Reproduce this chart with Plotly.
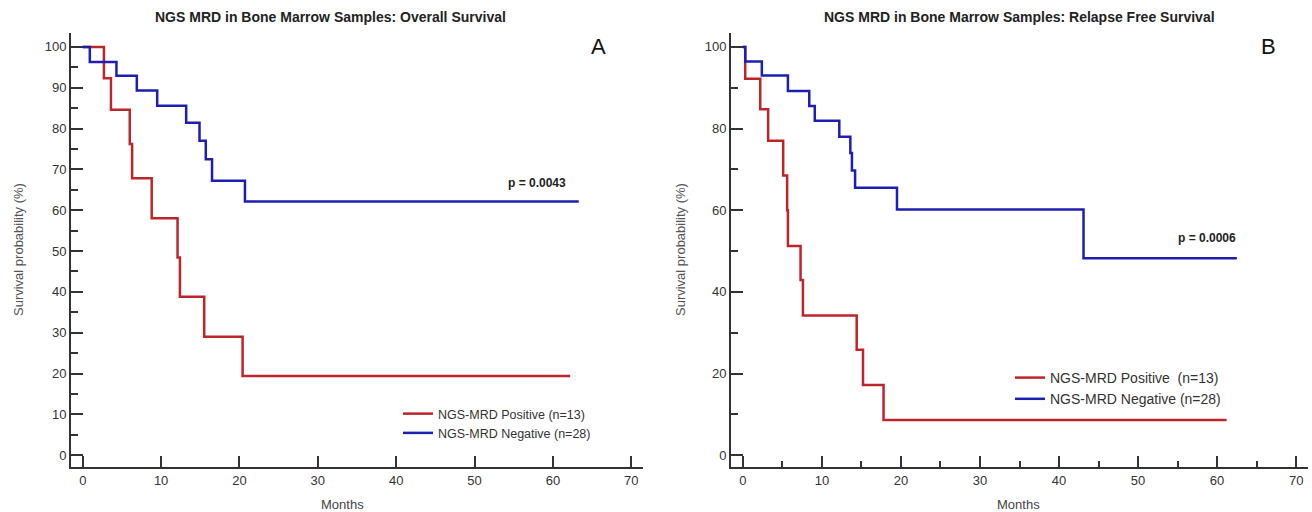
import plotly.graph_objects as go

# ---------------- data ----------------
# Panel A: Overall survival
os_pos_months = [0, 2.7, 3.6, 6.0, 6.3, 8.8, 12.1, 12.4, 15.5, 20.4, 62.2]
os_pos_surv = [100, 92.3, 84.6, 76.2, 67.8, 58.0, 48.4, 38.8, 29.0, 19.4, 19.4]
os_neg_months = [0, 0.9, 4.3, 6.9, 9.5, 13.2, 14.9, 15.7, 16.5, 20.7, 63.3]
os_neg_surv = [100, 96.3, 92.9, 89.3, 85.6, 81.4, 77.0, 72.5, 67.2, 62.1, 62.1]

# Panel B: Relapse free survival
rfs_pos_months = [0, 0.3, 2.2, 3.2, 5.1, 5.6, 5.7, 7.3, 7.6, 14.4, 15.2, 17.8, 61.2]
rfs_pos_surv = [100, 92.2, 84.7, 77.0, 68.5, 60.0, 51.2, 42.9, 34.2, 25.8, 17.2, 8.6, 8.6]
rfs_neg_months = [0, 0.3, 2.4, 5.7, 8.4, 9.1, 12.2, 13.6, 13.8, 14.2, 19.5, 43.1, 62.5]
rfs_neg_surv = [100, 96.4, 93.0, 89.2, 85.5, 81.9, 78.0, 74.0, 69.7, 65.5, 60.2, 48.2, 48.2]

x_ticks = [0, 10, 20, 30, 40, 50, 60, 70]
y_ticks_a = [0, 10, 20, 30, 40, 50, 60, 70, 80, 90, 100]
y_ticks_b = [0, 20, 40, 60, 80, 100]

title_a = "NGS MRD in Bone Marrow Samples: Overall Survival"
title_b = "NGS MRD in Bone Marrow Samples: Relapse Free Survival"
pval_a = "p = 0.0043"
pval_b = "p = 0.0006"
leg_pos_a = "NGS-MRD Positive (n=13)"
leg_neg_a = "NGS-MRD Negative (n=28)"
leg_pos_b = "NGS-MRD Positive  (n=13)"
leg_neg_b = "NGS-MRD Negative (n=28)"

# ---------------- styling ----------------
W, H = 1312, 512
RED = "#BE252B"
BLUE = "#1E1EB4"
AX = "#333333"
FONT = "Arial, Liberation Sans, sans-serif"


def px_x(p):
    return p / W


def px_y(p):
    return 1 - p / H


fig = go.Figure()

fig.add_trace(go.Scatter(x=os_pos_months, y=os_pos_surv, mode="lines", line_shape="hv",
                         line=dict(color=RED, width=2.5), name=leg_pos_a,
                         xaxis="x", yaxis="y", legend="legend"))
fig.add_trace(go.Scatter(x=os_neg_months, y=os_neg_surv, mode="lines", line_shape="hv",
                         line=dict(color=BLUE, width=2.5), name=leg_neg_a,
                         xaxis="x", yaxis="y", legend="legend"))
fig.add_trace(go.Scatter(x=rfs_pos_months, y=rfs_pos_surv, mode="lines", line_shape="hv",
                         line=dict(color=RED, width=2.5), name=leg_pos_b,
                         xaxis="x2", yaxis="y2", legend="legend2"))
fig.add_trace(go.Scatter(x=rfs_neg_months, y=rfs_neg_surv, mode="lines", line_shape="hv",
                         line=dict(color=BLUE, width=2.5), name=leg_neg_b,
                         xaxis="x2", yaxis="y2", legend="legend2"))

y_dom = [px_y(467), px_y(33)]


def xaxis(domain, anchor, minor):
    d = dict(domain=domain, anchor=anchor, range=[-1.5, 71.5], tickvals=x_ticks,
             showline=True, linecolor=AX, linewidth=2, ticks="inside", ticklen=11,
             tickwidth=2, tickcolor=AX, showgrid=False, zeroline=False,
             tickfont=dict(family=FONT, size=13, color="#333"), fixedrange=True)
    if minor:
        d["minor"] = dict(tickvals=[5, 15, 25, 35, 45, 55, 65], ticks="inside",
                          ticklen=6, tickwidth=2, tickcolor=AX, showgrid=False)
    return d


def yaxis(anchor, vals, minorvals):
    return dict(domain=y_dom, anchor=anchor, range=[-2.9, 103.4], tickvals=vals,
                showline=True, linecolor=AX, linewidth=2, ticks="inside", ticklen=12,
                tickwidth=2, tickcolor=AX, showgrid=False, zeroline=False,
                tickfont=dict(family=FONT, size=13, color="#333"), fixedrange=True,
                minor=dict(tickvals=minorvals, ticks="inside", ticklen=7, tickwidth=2,
                           tickcolor=AX, showgrid=False))


fig.update_layout(
    width=W, height=H, autosize=False,
    margin=dict(l=0, r=0, t=0, b=0),
    paper_bgcolor="white", plot_bgcolor="white",
    font=dict(family=FONT, color="#333"),
    xaxis=xaxis([px_x(71), px_x(643)], "y", False),
    yaxis=yaxis("x", y_ticks_a, [5, 15, 25, 35, 45, 55, 65, 75, 85, 95]),
    xaxis2=xaxis([px_x(731), px_x(1308)], "y2", True),
    yaxis2=yaxis("x2", y_ticks_b, [10, 30, 50, 70, 90]),
    legend=dict(x=px_x(398), y=px_y(399), xanchor="left", yanchor="top",
                bgcolor="rgba(0,0,0,0)", font=dict(family=FONT, size=12.5, color="#333"),
                tracegroupgap=0),
    legend2=dict(x=px_x(1010), y=px_y(362), xanchor="left", yanchor="top",
                 bgcolor="rgba(0,0,0,0)", font=dict(family=FONT, size=14, color="#333"),
                 tracegroupgap=0),
)

ann = []
ann.append(dict(text=f"<b>{title_a}</b>", x=px_x(330), y=px_y(17)))
ann.append(dict(text=f"<b>{title_b}</b>", x=px_x(1019), y=px_y(17)))
for a in ann:
    a.update(xref="paper", yref="paper", showarrow=False, xanchor="center", yanchor="middle",
             font=dict(family=FONT, size=14, color="#222"))
extra = [
    dict(text="A", x=px_x(598), y=px_y(46), font=dict(family=FONT, size=22, color="#111")),
    dict(text="B", x=px_x(1268), y=px_y(46), font=dict(family=FONT, size=22, color="#111")),
    dict(text=f"<b>{pval_a}</b>", x=px_x(537), y=px_y(183), font=dict(family=FONT, size=12, color="#222")),
    dict(text=f"<b>{pval_b}</b>", x=px_x(1207), y=px_y(238), font=dict(family=FONT, size=12, color="#222")),
    dict(text="Months", x=px_x(342), y=px_y(504), font=dict(family=FONT, size=13, color="#444")),
    dict(text="Months", x=px_x(1018), y=px_y(504), font=dict(family=FONT, size=13, color="#444")),
    dict(text="Survival probability (%)", x=px_x(18), y=px_y(250), textangle=-90,
         font=dict(family=FONT, size=13, color="#555")),
    dict(text="Survival probability (%)", x=px_x(680), y=px_y(250), textangle=-90,
         font=dict(family=FONT, size=13, color="#555")),
]
for a in extra:
    a.update(xref="paper", yref="paper", showarrow=False, xanchor="center", yanchor="middle")
fig.update_layout(annotations=ann + extra)

fig.write_html("out.html")
